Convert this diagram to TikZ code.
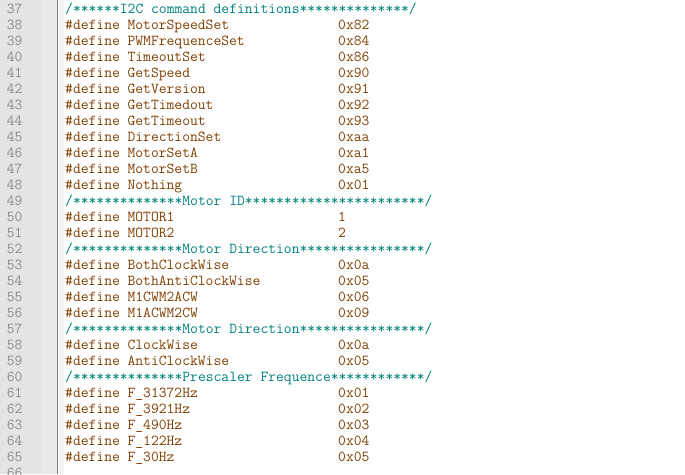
\documentclass[tikz,border=0pt]{standalone}
\usepackage{fontspec}
\definecolor{pp}{HTML}{804000}
\definecolor{cm}{HTML}{008080}
\definecolor{ln}{HTML}{8C8C8C}
\definecolor{gut}{HTML}{E4E4E4}
\definecolor{gutb}{HTML}{E9E9E9}
\definecolor{foldm}{HTML}{F3F3F3}
\definecolor{sepl}{HTML}{808080}
\newcommand\starsx[1]{\foreach\k in {1,...,#1}{*}}
\begin{document}
\begin{tikzpicture}[x=1pt,y=1pt,
  code/.style={anchor=base west,inner sep=0pt,font=\fontsize{15.17}{16}\selectfont\ttfamily,text=pp},
  cmt/.style={code,text=cm},
  lnum/.style={anchor=base east,inner sep=0pt,font=\fontsize{15.17}{16}\selectfont\ttfamily,text=ln}]
\useasboundingbox (0,-474) rectangle (685,0);
\fill[white] (0,-474) rectangle (685,0);
\fill[gut] (0,-474) rectangle (42,0);
\fill[gutb] (42,-474) rectangle (56.5,0);
\fill[foldm] (58,-474) rectangle (64,0);
\draw[sepl, line width=1.3pt] (57.2,-474) -- (57.2,0);
% line numbers
\foreach \i in {0,...,29}{
  \pgfmathtruncatemacro\n{37+\i}
  \node[lnum] (n\n) at (22.6,{-13.3-16*\i}) {\n};
}
% define lines
\foreach \i/\nm/\val in {1/MotorSpeedSet/0x82, 2/PWMFrequenceSet/0x84, 3/TimeoutSet/0x86,
  4/GetSpeed/0x90, 5/GetVersion/0x91, 6/GetTimedout/0x92, 7/GetTimeout/0x93,
  8/DirectionSet/0xaa, 9/MotorSetA/0xa1, 10/MotorSetB/0xa5, 11/Nothing/0x01,
  13/MOTOR1/1, 14/MOTOR2/2,
  16/BothClockWise/0x0a, 17/BothAntiClockWise/0x05, 18/M1CWM2ACW/0x06, 19/M1ACWM2CW/0x09,
  21/ClockWise/0x0a, 22/AntiClockWise/0x05,
  24/F\_31372Hz/0x01, 25/F\_3921Hz/0x02, 26/F\_490Hz/0x03, 27/F\_122Hz/0x04, 28/F\_30Hz/0x05}{
  \node[code] (d\i) at (65,{-13.3-16*\i}) {\#define};
  \node[code] (k\i) at (127.4,{-13.3-16*\i}) {\nm};
  \node[code] (v\i) at (338,{-13.3-16*\i}) {\val};
}
% comments
\node[cmt] (c0) at (65,-13.3) {/\starsx{6}I2C command definitions\starsx{14}/};
\node[cmt] (c12) at (65,{-13.3-16*12}) {/\starsx{14}Motor ID\starsx{23}/};
\node[cmt] (c15) at (65,{-13.3-16*15}) {/\starsx{14}Motor Direction\starsx{16}/};
\node[cmt] (c20) at (65,{-13.3-16*20}) {/\starsx{14}Motor Direction\starsx{16}/};
\node[cmt] (c23) at (65,{-13.3-16*23}) {/\starsx{14}Prescaler Frequence\starsx{12}/};
\end{tikzpicture}
\end{document}
